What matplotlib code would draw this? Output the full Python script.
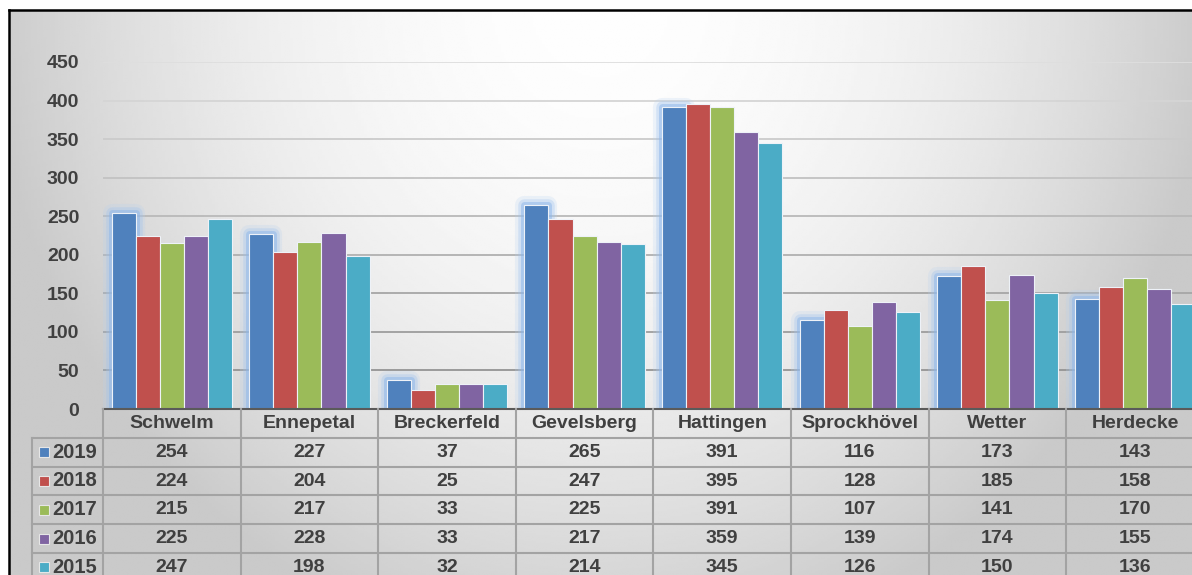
import numpy as np
import matplotlib.pyplot as plt
import matplotlib.patheffects as pe

staedte = ['Schwelm', 'Ennepetal', 'Breckerfeld', 'Gevelsberg', 'Hattingen',
           'Sprockhövel', 'Wetter', 'Herdecke']
jahre = ['2019', '2018', '2017', '2016', '2015']
werte_2019 = [254, 227, 37, 265, 391, 116, 173, 143]
werte_2018 = [224, 204, 25, 247, 395, 128, 185, 158]
werte_2017 = [215, 217, 33, 225, 391, 107, 141, 170]
werte_2016 = [225, 228, 33, 217, 359, 139, 174, 155]
werte_2015 = [247, 198, 32, 214, 345, 126, 150, 136]
y_ticks = [0, 50, 100, 150, 200, 250, 300, 350, 400, 450]

farben = ['#4F81BD', '#C0504D', '#9BBB59', '#8064A2', '#4BACC6']
textfarbe = '#404040'

W, H = 1192, 575
SPALTE = 137.6      # Breite einer Kategorie in Pixeln
ZEILE = 28.8        # Hoehe einer Tabellenzeile in Pixeln


def px_box(x0, y0, x1, y1):
    return [x0 / W, 1 - y1 / H, (x1 - x0) / W, (y1 - y0) / H]


def main():
    plt.rcParams['font.family'] = ['Liberation Sans', 'DejaVu Sans']
    plt.rcParams['font.weight'] = 'bold'

    fig = plt.figure(figsize=(W / 100, H / 100), dpi=100)

    # Hintergrund mit Verlauf und Rahmen
    bg = fig.add_axes(px_box(9, 10, W + 5, H + 5))
    xs = np.linspace(9, W + 5, 400)
    ys = np.linspace(10, H + 5, 300)
    gx, gy = np.meshgrid(xs, ys)
    r2 = ((gx - 600) / 590) ** 2 + ((gy - 0) / 640) ** 2
    hell = np.clip(0.995 - 0.19 * r2, 0.79, 1.0)
    bg.imshow(hell, cmap='gray', vmin=0, vmax=1, aspect='auto',
              extent=(9, W + 5, H + 5, 10), interpolation='bilinear')
    bg.set_xlim(9, W + 5)
    bg.set_ylim(H + 5, 10)
    bg.set_xticks([])
    bg.set_yticks([])
    for s in ['right', 'bottom']:
        bg.spines[s].set_visible(False)
    for s in ['top', 'left']:
        bg.spines[s].set_color('black')
        bg.spines[s].set_linewidth(1.8)

    # Diagramm
    x_rechts = 103 + 8 * SPALTE
    ax = fig.add_axes(px_box(103, 62, x_rechts, 409))
    ax.set_facecolor('none')
    ax.set_xlim(-0.5, 7.5)
    ax.set_ylim(0, 450)

    for i, y in enumerate(y_ticks[1:]):
        grau = 0.58 + 0.29 * i / (len(y_ticks) - 2)
        ax.axhline(y, color=(grau, grau, grau), lw=1.3, zorder=1)

    reihen = [werte_2019, werte_2018, werte_2017, werte_2016, werte_2015]
    bw = 24.1 / SPALTE
    x = np.arange(len(staedte))
    for i, (werte, farbe) in enumerate(zip(reihen, farben)):
        balken = ax.bar(x + (i - 2) * bw, werte, bw, color=farbe,
                        edgecolor='#eef2f8', linewidth=0.8, zorder=3)
        if i == 0:
            # blauer Schein um die 2019er Balken
            for b in balken:
                b.set_path_effects([
                    pe.Stroke(linewidth=13, foreground='#b4d0f0', alpha=0.22,
                              joinstyle='round'),
                    pe.Stroke(linewidth=9, foreground='#9fc2ee', alpha=0.32,
                              joinstyle='round'),
                    pe.Stroke(linewidth=5, foreground='#8cb6ea', alpha=0.5,
                              joinstyle='round'),
                    pe.Normal()])

    ax.set_xticks([])
    ax.set_yticks(y_ticks)
    ax.tick_params(axis='y', length=0, pad=17, labelsize=14, labelcolor=textfarbe)
    for s in ['top', 'right', 'left']:
        ax.spines[s].set_visible(False)
    ax.spines['bottom'].set_color('#5a5a5a')
    ax.spines['bottom'].set_linewidth(1.5)
    ax.spines['bottom'].set_zorder(5)

    # Datentabelle
    x_links = -0.5 - (103 - 32) / SPALTE
    tab = fig.add_axes(px_box(32, 409, x_rechts, 409 + 6 * ZEILE))
    tab.set_facecolor('none')
    tab.set_xlim(x_links, 7.5)
    tab.set_ylim(6, 0)
    tab.axis('off')

    linie = dict(color='#a3a3a3', lw=1.5, clip_on=False)
    for r in range(1, 6):
        tab.plot([x_links, 7.5], [r, r], **linie)
    for k in range(len(staedte) + 1):
        tab.plot([k - 0.5, k - 0.5], [0, 6], **linie)
    tab.plot([x_links, x_links], [1, 6], **linie)

    for k, name in enumerate(staedte):
        tab.text(k, 0.5, name, ha='center', va='center', fontsize=14,
                 color=textfarbe)
    for r, (jahr, werte, farbe) in enumerate(zip(jahre, reihen, farben)):
        yy = r + 1.5
        tab.plot(x_links + 11.5 / SPALTE, yy, marker='s', ms=7, color=farbe,
                 mec='#e6e6e6', mew=0.8, clip_on=False)
        tab.text(x_links + 20 / SPALTE, yy, jahr, ha='left', va='center',
                 fontsize=14.5, color=textfarbe)
        for k, v in enumerate(werte):
            tab.text(k, yy, str(v), ha='center', va='center', fontsize=14,
                     color=textfarbe)

    fig.savefig('out.png', dpi=100)


if __name__ == '__main__':
    main()
